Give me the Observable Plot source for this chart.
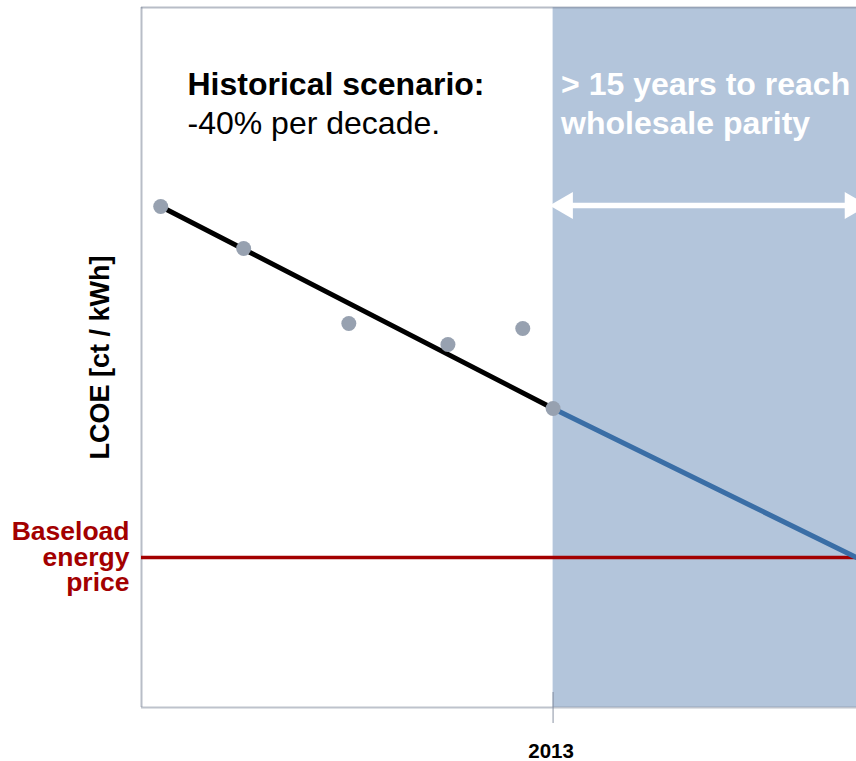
<!DOCTYPE html>
<html>
<head>
<meta charset="utf-8">
<script src="https://cdn.jsdelivr.net/npm/d3@7"></script>
<script src="https://cdn.jsdelivr.net/npm/@observablehq/plot@0.6"></script>
<style>
  html, body { margin: 0; padding: 0; background: #fff; }
  svg { display: block; }
</style>
</head>
<body>
<script>
// ---- data (y in arbitrary ct/kWh units) ----
const years = [1993.6, 1997.7, 2002.9, 2007.8, 2011.5, 2013];
const lcoe = [50.1, 45.9, 38.4, 36.3, 37.9, 29.9];
const trendYears = [1993.6, 2013];
const trendValues = [50.1, 29.9];
const forecastYears = [2013, 2028];
const forecastValues = [29.9, 15.0];
const baseloadPrice = 15.0;
const parityWindow = [2013, 2028];
const tickYears = [2013];
const xDomain = [1992.65, 2028];
const yDomain = [0, 70];

const points = years.map((x, i) => ({x, y: lcoe[i]}));
const trend = trendYears.map((x, i) => ({x, y: trendValues[i]}));
const forecast = forecastYears.map((x, i) => ({x, y: forecastValues[i]}));

const font = "'Liberation Sans', Arial, Helvetica, sans-serif";
const frameColor = "#7d8799";
const arrowDy = 198;

const chart = Plot.plot({
  width: 856,
  height: 761,
  marginLeft: 141,
  marginRight: 0,
  marginTop: 7,
  marginBottom: 54,
  x: {domain: xDomain, axis: null},
  y: {domain: yDomain, axis: null},
  style: {fontFamily: font, background: "#fff", overflow: "visible"},
  marks: [
    // shaded future window
    Plot.rect([parityWindow], {x1: d => d[0], x2: d => d[1], y1: yDomain[0], y2: yDomain[1], fill: "#b3c5db"}),
    // frame (left, top, bottom)
    Plot.ruleX([xDomain[0]], {stroke: frameColor, strokeOpacity: 0.55, strokeWidth: 2}),
    Plot.ruleY([yDomain[1]], {stroke: frameColor, strokeOpacity: 0.55, strokeWidth: 2}),
    Plot.ruleY([yDomain[0]], {stroke: frameColor, strokeOpacity: 0.5, strokeWidth: 2}),
    // x tick crossing the axis
    Plot.ruleX(tickYears, {y1: yDomain[0], y2: yDomain[0], insetTop: -15, insetBottom: -16, stroke: frameColor, strokeOpacity: 0.6, strokeWidth: 1.5}),
    // baseload price
    Plot.ruleY([baseloadPrice], {stroke: "#a30000", strokeWidth: 3.5}),
    // trend lines
    Plot.line(trend, {x: "x", y: "y", stroke: "#000", strokeWidth: 5}),
    Plot.line(forecast, {x: "x", y: "y", stroke: "#3a6ea6", strokeWidth: 5}),
    // data points
    Plot.dot(points, {x: "x", y: "y", r: 7.5, fill: "#97a1b0", stroke: "none"}),
    // double arrow across parity window
    Plot.ruleY([parityWindow], {x1: d => d[0], x2: d => d[1], y: () => yDomain[1], dy: arrowDy, insetLeft: 14, stroke: "#fff", strokeWidth: 5.5}),
    Plot.dot([parityWindow[0]], {x: d => d, frameAnchor: "top", dy: arrowDy, dx: 12, symbol: "triangle", rotate: -90, r: 10, fill: "#fff", stroke: "none"}),
    Plot.dot([parityWindow[1]], {x: d => d, frameAnchor: "top", dy: arrowDy, dx: -4, symbol: "triangle", rotate: 90, r: 10, fill: "#fff", stroke: "none"}),
    // annotations
    Plot.text(["Historical scenario:"], {frameAnchor: "top-left", dx: 46, dy: 87, lineAnchor: "bottom", textAnchor: "start", fontSize: 32, fontWeight: "bold", fill: "#000"}),
    Plot.text(["-40% per decade."], {frameAnchor: "top-left", dx: 46, dy: 126, lineAnchor: "bottom", textAnchor: "start", fontSize: 32, fill: "#000"}),
    Plot.text(["> 15 years to reach"], {x: () => parityWindow[0], frameAnchor: "top", dx: 8, dy: 87, lineAnchor: "bottom", textAnchor: "start", fontSize: 32, fontWeight: "bold", fill: "#fff"}),
    Plot.text(["wholesale parity"], {x: () => parityWindow[0], frameAnchor: "top", dx: 8, dy: 126, lineAnchor: "bottom", textAnchor: "start", fontSize: 32, fontWeight: "bold", fill: "#fff"}),
    // y label
    Plot.text(["LCOE [ct / kWh]"], {frameAnchor: "left", dx: -41, rotate: -90, textAnchor: "middle", fontSize: 27, fontWeight: "bold", fill: "#000"}),
    // baseload label
    Plot.text(["Baseload\nenergy\nprice"], {x: () => xDomain[0], y: () => baseloadPrice, dx: -12, textAnchor: "end", lineAnchor: "middle", lineHeight: 0.97, fontSize: 26.5, fontWeight: "bold", fill: "#a30000"}),
    // x tick label
    Plot.text(tickYears, {x: d => d, frameAnchor: "bottom", dy: 50, dx: -2, lineAnchor: "bottom", textAnchor: "middle", fontSize: 20.5, fontWeight: "bold", fill: "#000", text: d => String(d)})
  ]
});
document.body.appendChild(chart);
</script>
</body>
</html>
